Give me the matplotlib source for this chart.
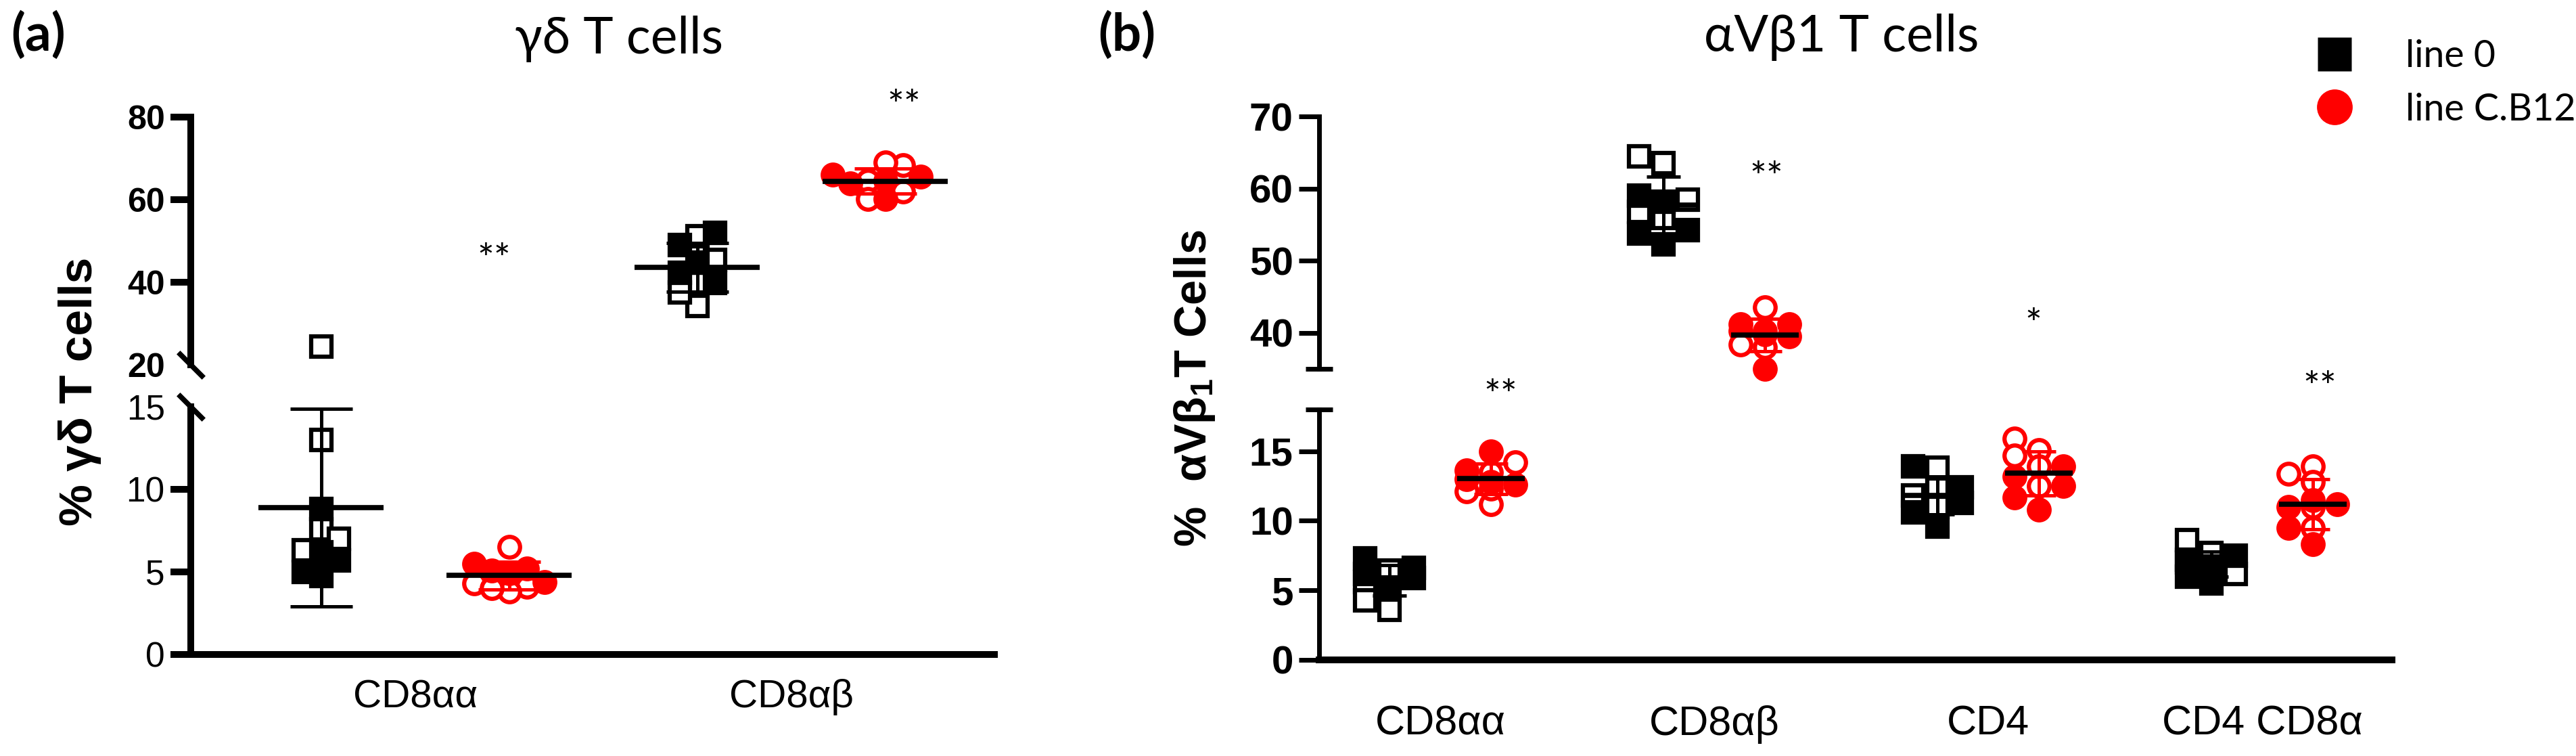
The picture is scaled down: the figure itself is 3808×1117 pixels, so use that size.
import numpy as np
import matplotlib
matplotlib.use("Agg")
import matplotlib.pyplot as plt
from matplotlib.lines import Line2D

W, H, DPI = 3808, 1117, 100

plt.rcParams["font.family"] = ["Liberation Sans", "DejaVu Sans"]
plt.rcParams["mathtext.fontset"] = "custom"
plt.rcParams["mathtext.rm"] = "Liberation Sans:bold"
plt.rcParams["mathtext.default"] = "rm"

LABEL_FONT = ["Lato", "DejaVu Sans"]

# ---- panel (a): gamma-delta T cells ----
cats_a = ["CD8αα", "CD8αβ"]
a_line0_open = [[24.5, 13.0, 7.6, 6.3, 7.0], [51.1, 45.4, 39.8, 34.3, 37.5]]
a_line0_filled = [[4.75, 8.8, 6.2, 5.0, 5.7], [49.0, 52.0, 42.3, 44.8, 39.8]]
a_cb12_open = [[4.1, 6.5, 4.3, 3.8, 4.0], [64.6, 68.4, 62.0, 69.0, 60.2]]
a_cb12_filled = [[5.2, 5.5, 4.9, 5.1, 4.4], [66.1, 60.2, 64.6, 64.0, 65.5]]
sig_a = ["**", "**"]

# ---- panel (b): alphaV beta1 T cells ----
cats_b = ["CD8αα", "CD8αβ", "CD4", "CD4 CD8α"]
b_line0_open = [[6.0, 5.6, 3.6, 4.3, 6.4], [63.5, 64.5, 56.8, 55.9, 58.5],
                [13.8, 11.5, 11.8, 12.3, 11.0], [8.6, 7.7, 7.0, 6.5, 6.2]]
b_line0_filled = [[7.3, 6.2, 5.9, 5.2, 6.6], [59.0, 58.2, 54.2, 53.8, 52.3],
                  [13.9, 9.6, 12.4, 11.3, 10.6], [7.5, 5.5, 6.0, 6.7, 7.2]]
b_cb12_open = [[14.2, 11.2, 12.1, 13.5, 12.3], [43.5, 40.3, 40.3, 38.4, 38.0],
               [15.9, 15.1, 14.7, 12.5, 13.9], [13.4, 13.9, 12.8, 9.5, 11.0]]
b_cb12_filled = [[15.0, 12.8, 13.0, 13.6, 12.6], [41.2, 41.2, 35.0, 39.5, 39.8],
                 [12.5, 11.7, 10.8, 13.9, 13.2], [11.5, 9.5, 8.3, 11.2, 11.0]]
sig_b = ["**", "**", "*", "**"]

series_names = ["line 0", "line C.B12"]
series_colors = ["black", "#ff0000"]


def box(x0, x1, ytop, ybot):
    """Pixel box (from top-left) to figure fraction rect."""
    return [x0 / W, 1 - ybot / H, (x1 - x0) / W, (ybot - ytop) / H]


def px_per_unit(ax, axis):
    pos = ax.get_position()
    if axis == "y":
        lo, hi = ax.get_ylim()
        return pos.height * H / (hi - lo)
    lo, hi = ax.get_xlim()
    return pos.width * W / (hi - lo)


def swarm(y_px, size, step, nmax):
    """Beeswarm-like horizontal offsets (px); overlap allowed once crowded."""
    offs = np.zeros(len(y_px))
    placed = []
    cands = [0.0]
    for j in range(1, nmax + 1):
        cands += [-j * step, j * step]
    for i in np.argsort(y_px):
        best, best_n = 0.0, None
        for c in cands:
            n = sum(abs(c - px) < size and abs(y_px[i] - py) < size
                    for px, py in placed)
            if best_n is None or n < best_n:
                best, best_n = c, n
            if n == 0:
                break
        offs[i] = best
        placed.append((best, y_px[i]))
    return offs


def plot_group(ax_hi, ax_lo, split, x, open_vals, filled_vals, color, marker,
               mean_w, cap, bar_lw, spread):
    vals = np.array(open_vals + filled_vals)
    filled = np.array([False] * len(open_vals) + [True] * len(filled_vals))
    hi = vals >= split
    for sel, ax in ((hi, ax_hi), (~hi, ax_lo)):
        if not sel.any():
            continue
        offs = swarm(vals[sel] * px_per_unit(ax, "y"), *spread) / px_per_unit(ax, "x")
        for v, o, f in zip(vals[sel], offs, filled[sel]):
            ax.plot(x + o, v, ls="none", marker=marker, ms=22, mew=4.5, mec=color,
                    mfc=color if f else "white", clip_on=False, zorder=3)
    m, sd = vals.mean(), vals.std(ddof=1)
    ax = ax_hi if m >= split else ax_lo
    hw = mean_w / 2 / px_per_unit(ax, "x")
    ax.plot([x - hw, x + hw], [m, m], color="black", lw=5.5,
            solid_capstyle="butt", zorder=5, clip_on=False)
    ax.errorbar(x, m, yerr=sd, fmt="none", ecolor=color, elinewidth=bar_lw,
                capsize=cap, capthick=bar_lw, zorder=4)


def style(ax, lw_left, lw_bottom, bottom, tick_size, weight):
    for s in ("top", "right"):
        ax.spines[s].set_visible(False)
    ax.spines["left"].set_linewidth(lw_left)
    ax.spines["bottom"].set_linewidth(lw_bottom)
    ax.spines["bottom"].set_visible(bottom)
    ax.tick_params(axis="y", length=21.6, width=lw_left, pad=6,
                   labelsize=tick_size)
    for t in ax.get_yticklabels():
        t.set_fontweight(weight)
    ax.tick_params(axis="x", length=0)
    ax.patch.set_visible(False)


fig = plt.figure(figsize=(W / DPI, H / DPI), dpi=DPI)

# ---------------- panel (a) ----------------
a_hi = fig.add_axes(box(282, 1470, 173, 539))
a_lo = fig.add_axes(box(282, 1470, 601, 967))
for ax in (a_hi, a_lo):
    ax.set_xlim(-0.597, 1.54)
a_hi.set_ylim(20, 80)
a_lo.set_ylim(0, 15)
a_hi.set_yticks([20, 40, 60, 80])
a_lo.set_yticks([0, 5, 10, 15])
a_hi.set_xticks([])
a_lo.set_xticks(range(len(cats_a)))
a_lo.set_xticklabels(cats_a, fontsize=42)
a_lo.tick_params(axis="x", pad=26)
style(a_hi, 7.2, 7.2, False, 36, "bold")
style(a_lo, 7.2, 7.2, True, 37, "normal")
a_hi.yaxis.get_major_ticks()[0].tick1line.set_visible(False)
a_lo.yaxis.get_major_ticks()[-1].tick1line.set_visible(False)
slash = [(-1, 1), (1, -1)]
a_hi.plot([0], [0], transform=a_hi.transAxes, marker=slash, ms=27, mew=5.5,
          color="black", clip_on=False)
a_lo.plot([0], [1], transform=a_lo.transAxes, marker=slash, ms=27, mew=5.5,
          color="black", clip_on=False)

for i in range(len(cats_a)):
    plot_group(a_hi, a_lo, 17.5, i - 0.25, a_line0_open[i], a_line0_filled[i],
               series_colors[0], "s", 185, 33, 3.6, (26, 26, 3))
    plot_group(a_hi, a_lo, 17.5, i + 0.25, a_cb12_open[i], a_cb12_filled[i],
               series_colors[1], "o", 185, 33, 3.6, (26, 26, 3))

a_hi.text(0.21, 45.2, sig_a[0], ha="center", va="center", fontsize=42,
          family=LABEL_FONT)
a_hi.text(1.3, 82.4, sig_a[1], ha="center", va="center", fontsize=42,
          family=LABEL_FONT, clip_on=False)

# ---------------- panel (b) ----------------
b_hi = fig.add_axes(box(1950, 3536, 172, 545))
b_lo = fig.add_axes(box(1950, 3536, 605, 975))
for ax in (b_hi, b_lo):
    ax.set_xlim(-0.442, 3.474)
b_hi.set_ylim(35, 70)
b_lo.set_ylim(0, 18)
b_hi.set_yticks([40, 50, 60, 70])
b_lo.set_yticks([0, 5, 10, 15])
b_hi.set_xticks([])
b_lo.set_xticks(range(len(cats_b)))
b_lo.set_xticklabels(cats_b, fontsize=44)
b_lo.tick_params(axis="x", pad=48)
style(b_hi, 5, 5, False, 42, "bold")
style(b_lo, 5, 7.2, True, 42, "bold")
b_hi.plot([0], [0], transform=b_hi.transAxes, marker="_", ms=29, mew=5,
          color="black", clip_on=False)
b_lo.plot([0], [1], transform=b_lo.transAxes, marker="_", ms=29, mew=5,
          color="black", clip_on=False)

for i in range(len(cats_b)):
    plot_group(b_hi, b_lo, 26, i - 0.185, b_line0_open[i], b_line0_filled[i],
               series_colors[0], "s", 100, 18, 3.6, (22, 18, 2))
    plot_group(b_hi, b_lo, 26, i + 0.185, b_cb12_open[i], b_cb12_filled[i],
               series_colors[1], "o", 100, 18, 3.6, (22, 18, 2))

b_lo.text(0.22, 18.9, sig_b[0], ha="center", va="center", fontsize=42,
          family=LABEL_FONT, clip_on=False)
b_hi.text(1.19, 61.3, sig_b[1], ha="center", va="center", fontsize=42,
          family=LABEL_FONT)
b_hi.text(2.165, 41.0, sig_b[2], ha="center", va="center", fontsize=42,
          family=LABEL_FONT)
b_lo.text(3.21, 19.5, sig_b[3], ha="center", va="center", fontsize=42,
          family=LABEL_FONT, clip_on=False)

# ---------------- labels ----------------
fig.text(57 / W, 1 - 52 / H, "(a)", fontsize=55, fontweight="bold",
         family=LABEL_FONT, ha="center", va="center")
fig.text(1666 / W, 1 - 52 / H, "(b)", fontsize=55, fontweight="bold",
         family=LABEL_FONT, ha="center", va="center")
fig.text(915 / W, 1 - 58 / H, "γδ T cells", fontsize=54, family=LABEL_FONT,
         ha="center", va="center")
fig.text(2722 / W, 1 - 55 / H, "αVβ1 T cells", fontsize=54, family=LABEL_FONT,
         ha="center", va="center")
fig.text(118 / W, 1 - 578 / H, "% γδ T cells", fontsize=50, fontweight="bold",
         rotation=90, ha="center", va="center")
fig.text(1766 / W, 1 - 574 / H, "%  αVβ$_1$T Cells", fontsize=48,
         fontweight="bold", rotation=90, ha="center", va="center")

handles = [
    Line2D([], [], ls="none", marker="s", ms=36, mfc=series_colors[0], mec="none"),
    Line2D([], [], ls="none", marker="o", ms=38, mfc=series_colors[1], mec="none"),
]
fig.legend(handles, series_names, loc="upper left",
           bbox_to_anchor=((3451 - 28) / W, 1 - 58 / H), frameon=False,
           prop={"family": LABEL_FONT, "size": 40}, handlelength=1.0,
           handletextpad=1.4, labelspacing=0.5, borderpad=0, borderaxespad=0)

fig.savefig("out.png", dpi=DPI)
